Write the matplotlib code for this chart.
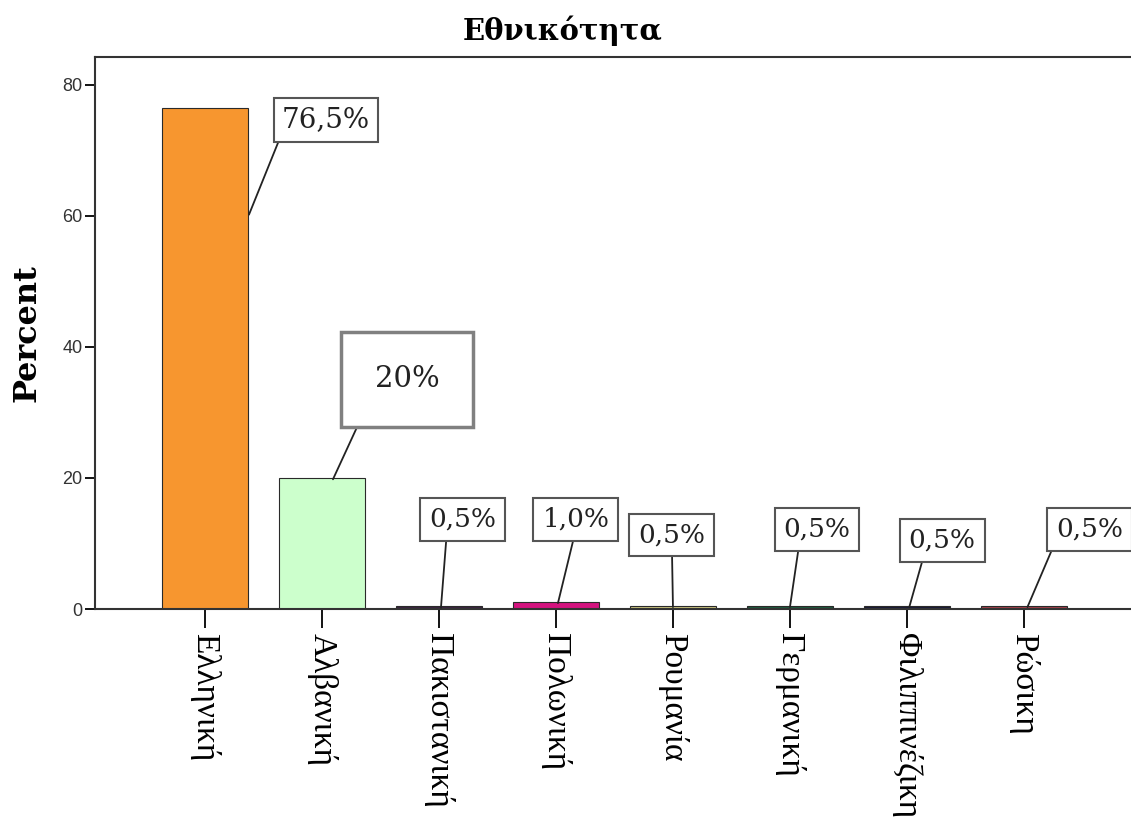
import matplotlib
matplotlib.use("Agg")
import matplotlib.pyplot as plt

# Nationality distribution (percent of respondents)
categories = ["Ελληνική", "Αλβανική", "Πακιστανική", "Πολωνική",
              "Ρουμανία", "Γερμανική", "Φιλιππινέζικη", "Ρώσικη"]
percent = [76.5, 20.0, 0.5, 1.0, 0.5, 0.5, 0.5, 0.5]
value_labels = ["76,5%", "20%", "0,5%", "1,0%", "0,5%", "0,5%", "0,5%", "0,5%"]
bar_colors = ["#F7962F", "#CCFFCC", "#3A2340", "#D4137F",
              "#C9C27E", "#1E5A3C", "#1C1C38", "#A3404A"]

# Callout placement: text centre (data units), anchor on bar,
# and where the leader leaves the box (relative box coords)
label_pos = [(1.034, 74.7), (1.726, 35.1), (2.205, 13.7), (3.171, 13.7),
             (3.991, 11.3), (5.231, 12.2), (6.30, 10.5), (7.56, 12.2)]
anchor_pos = [(0.376, 60.2), (1.094, 19.8), (2.017, 0.2), (3.017, 0.9),
              (4.0, 0.3), (5.0, 0.3), (6.02, 0.3), (7.03, 0.3)]
leader_rel = [(0.0, 0.0), (0.0, 0.14), (0.26, 0.0), (0.49, 0.0),
              (0.5, 0.0), (0.24, 0.0), (0.24, 0.0), (0.0, 0.05)]

fig = plt.figure(figsize=(11.31, 8.25), dpi=100)
ax = fig.add_axes([95 / 1131, 216 / 825, 1 - 95 / 1131, 552 / 825])

x = range(len(categories))
ax.bar(x, percent, width=0.74, color=bar_colors, edgecolor="#2a2a2a",
       linewidth=0.8, zorder=2)

ax.set_xlim(-0.94, 7.915)
ax.set_ylim(0, 84.27)

for i, txt in enumerate(value_labels):
    big = (i == 1)
    fs = 20 if i == 0 else (21 if big else 19)
    pad = 1.15 if big else (0.3 if i == 0 else 0.34)
    ax.annotate(txt, xy=anchor_pos[i], xytext=label_pos[i],
                ha="center", va="center", fontsize=fs,
                family="DejaVu Serif", color="#222222",
                bbox=dict(boxstyle=f"square,pad={pad}", fc="white",
                          ec="#808080" if big else "#555555",
                          lw=2.5 if big else 1.5),
                arrowprops=dict(arrowstyle="-", color="#222222", lw=1.3,
                                relpos=leader_rel[i], shrinkA=0, shrinkB=0),
                zorder=4, annotation_clip=False)

ax.set_yticks([0, 20, 40, 60, 80])
ax.tick_params(axis="y", length=7, width=1.3, pad=2, labelsize=13,
               labelcolor="#333333")
ax.set_xticks(list(x))
ax.set_xticklabels(categories, rotation=270, fontsize=24,
                   family="Liberation Serif", va="top", ha="center")
ax.tick_params(axis="x", length=14, width=1.3, pad=3)
for lbl in ax.get_yticklabels():
    lbl.set_family("Liberation Sans")

for side in ("left", "bottom", "top"):
    ax.spines[side].set_linewidth(1.5)
    ax.spines[side].set_color("#333333")
ax.spines["right"].set_visible(False)

ax.set_ylabel("Percent", fontsize=23, fontweight="bold",
              family="DejaVu Serif", labelpad=14)
fig.text(563 / 1131, 1 - 31 / 825, "Εθνικότητα", fontsize=21,
         fontweight="bold", family="DejaVu Serif", ha="center", va="center")

fig.savefig("out.png", dpi=100)
